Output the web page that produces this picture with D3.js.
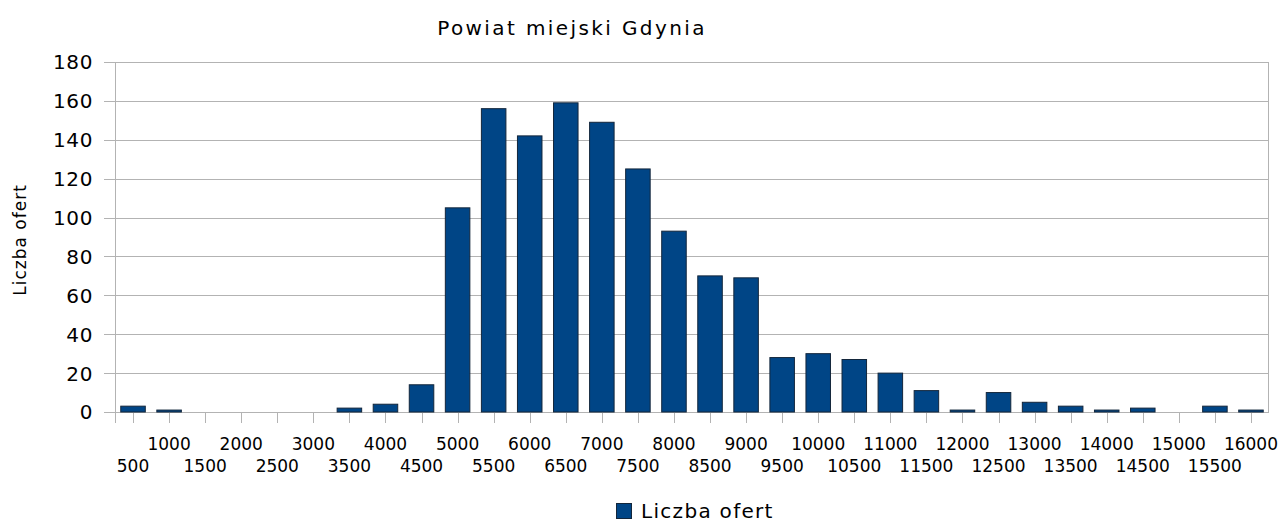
<!DOCTYPE html>
<html>
<head>
<meta charset="utf-8">
<script src="https://cdn.jsdelivr.net/npm/d3@7"></script>
<style>
  body { margin: 0; background: #fff; }
  text { font-family: "DejaVu Sans", Verdana, sans-serif; fill: #000; }
</style>
</head>
<body>
<div id="chart"></div>
<script>
let svgWidth = 1281;
let svgHeight = 523;

// categories (price per m2) and counts
let categories = [500, 1000, 1500, 2000, 2500, 3000, 3500, 4000, 4500, 5000, 5500, 6000,
    6500, 7000, 7500, 8000, 8500, 9000, 9500, 10000, 10500, 11000, 11500, 12000,
    12500, 13000, 13500, 14000, 14500, 15000, 15500, 16000];
let counts = [3, 1, 0, 0, 0, 0, 2, 4, 14, 105, 156, 142,
    159, 149, 125, 93, 70, 69, 28, 30, 27, 20, 11, 1,
    10, 5, 3, 1, 2, 0, 3, 1];
let yTicks = [0, 20, 40, 60, 80, 100, 120, 140, 160, 180];

let title = "Powiat miejski Gdynia";
let yTitle = "Liczba ofert";
let seriesName = "Liczba ofert";

let margin = { top: 62, right: 12, bottom: 111, left: 115 };
let width = svgWidth - margin.left - margin.right;
let height = svgHeight - margin.top - margin.bottom;

let svg = d3.select("#chart")
    .append("svg")
    .attr("width", svgWidth)
    .attr("height", svgHeight);

let chartGroup = svg.append("g")
    .attr("transform", `translate(${margin.left}, ${margin.top})`);

let xScale = d3.scaleBand()
    .domain(categories)
    .range([0, width])
    .paddingInner(0.32)
    .paddingOuter(0.16);

let yScale = d3.scaleLinear()
    .domain([0, 180])
    .range([height, 0]);

// gridlines (extend left past the axis as tick marks)
chartGroup.append("g")
    .selectAll("line")
    .data(yTicks)
    .enter()
    .append("line")
    .attr("x1", -11)
    .attr("x2", width)
    .attr("y1", d => Math.round(yScale(d)) + 0.5)
    .attr("y2", d => Math.round(yScale(d)) + 0.5)
    .attr("stroke", "#b3b3b3")
    .attr("stroke-width", 1);

// y axis labels
chartGroup.append("g")
    .selectAll("text")
    .data(yTicks)
    .enter()
    .append("text")
    .attr("x", -22)
    .attr("y", d => yScale(d))
    .attr("dy", "0.37em")
    .attr("text-anchor", "end")
    .attr("font-size", 20)
    .attr("letter-spacing", 0.6)
    .text(d => d);

// frame: left axis line and right border
chartGroup.append("line")
    .attr("x1", 0.5).attr("x2", 0.5)
    .attr("y1", 0).attr("y2", height + 11)
    .attr("stroke", "#b3b3b3");
chartGroup.append("line")
    .attr("x1", width - 0.5).attr("x2", width - 0.5)
    .attr("y1", 0).attr("y2", height)
    .attr("stroke", "#b3b3b3");

// x ticks at category centers
chartGroup.append("g")
    .selectAll("line")
    .data(categories)
    .enter()
    .append("line")
    .attr("x1", d => Math.round(xScale(d) + xScale.bandwidth() / 2) + 0.5)
    .attr("x2", d => Math.round(xScale(d) + xScale.bandwidth() / 2) + 0.5)
    .attr("y1", height)
    .attr("y2", height + 11)
    .attr("stroke", "#b3b3b3");

// bars
chartGroup.selectAll(".bar")
    .data(categories)
    .enter()
    .append("rect")
    .classed("bar", true)
    .attr("x", d => xScale(d))
    .attr("y", (d, i) => yScale(counts[i]))
    .attr("width", xScale.bandwidth())
    .attr("height", (d, i) => height - yScale(counts[i]))
    .attr("fill", "#004586")
    .attr("stroke", "#13263b")
    .attr("stroke-width", 1);

// x labels, staggered in two rows
chartGroup.append("g")
    .selectAll("text")
    .data(categories)
    .enter()
    .append("text")
    .attr("x", d => xScale(d) + xScale.bandwidth() / 2)
    .attr("y", (d, i) => height + (i % 2 === 0 ? 59.5 : 37.5))
    .attr("text-anchor", "middle")
    .attr("font-size", 17)
    .text(d => d);

// title
svg.append("text")
    .attr("x", 572)
    .attr("y", 35)
    .attr("text-anchor", "middle")
    .attr("font-size", 20)
    .attr("letter-spacing", 2.4)
    .text(title);

// y axis title
svg.append("text")
    .attr("transform", `translate(26, ${margin.top + height / 2 + 3}) rotate(-90)`)
    .attr("text-anchor", "middle")
    .attr("font-size", 17)
    .attr("letter-spacing", 1)
    .text(yTitle);

// legend
let legend = svg.append("g")
    .attr("transform", "translate(616.5, 503.5)");
legend.append("rect")
    .attr("width", 15)
    .attr("height", 15)
    .attr("fill", "#004586")
    .attr("stroke", "#13263b");
legend.append("text")
    .attr("x", 24.5)
    .attr("y", 14.5)
    .attr("font-size", 20)
    .attr("letter-spacing", 1.3)
    .text(seriesName);
</script>
</body>
</html>
